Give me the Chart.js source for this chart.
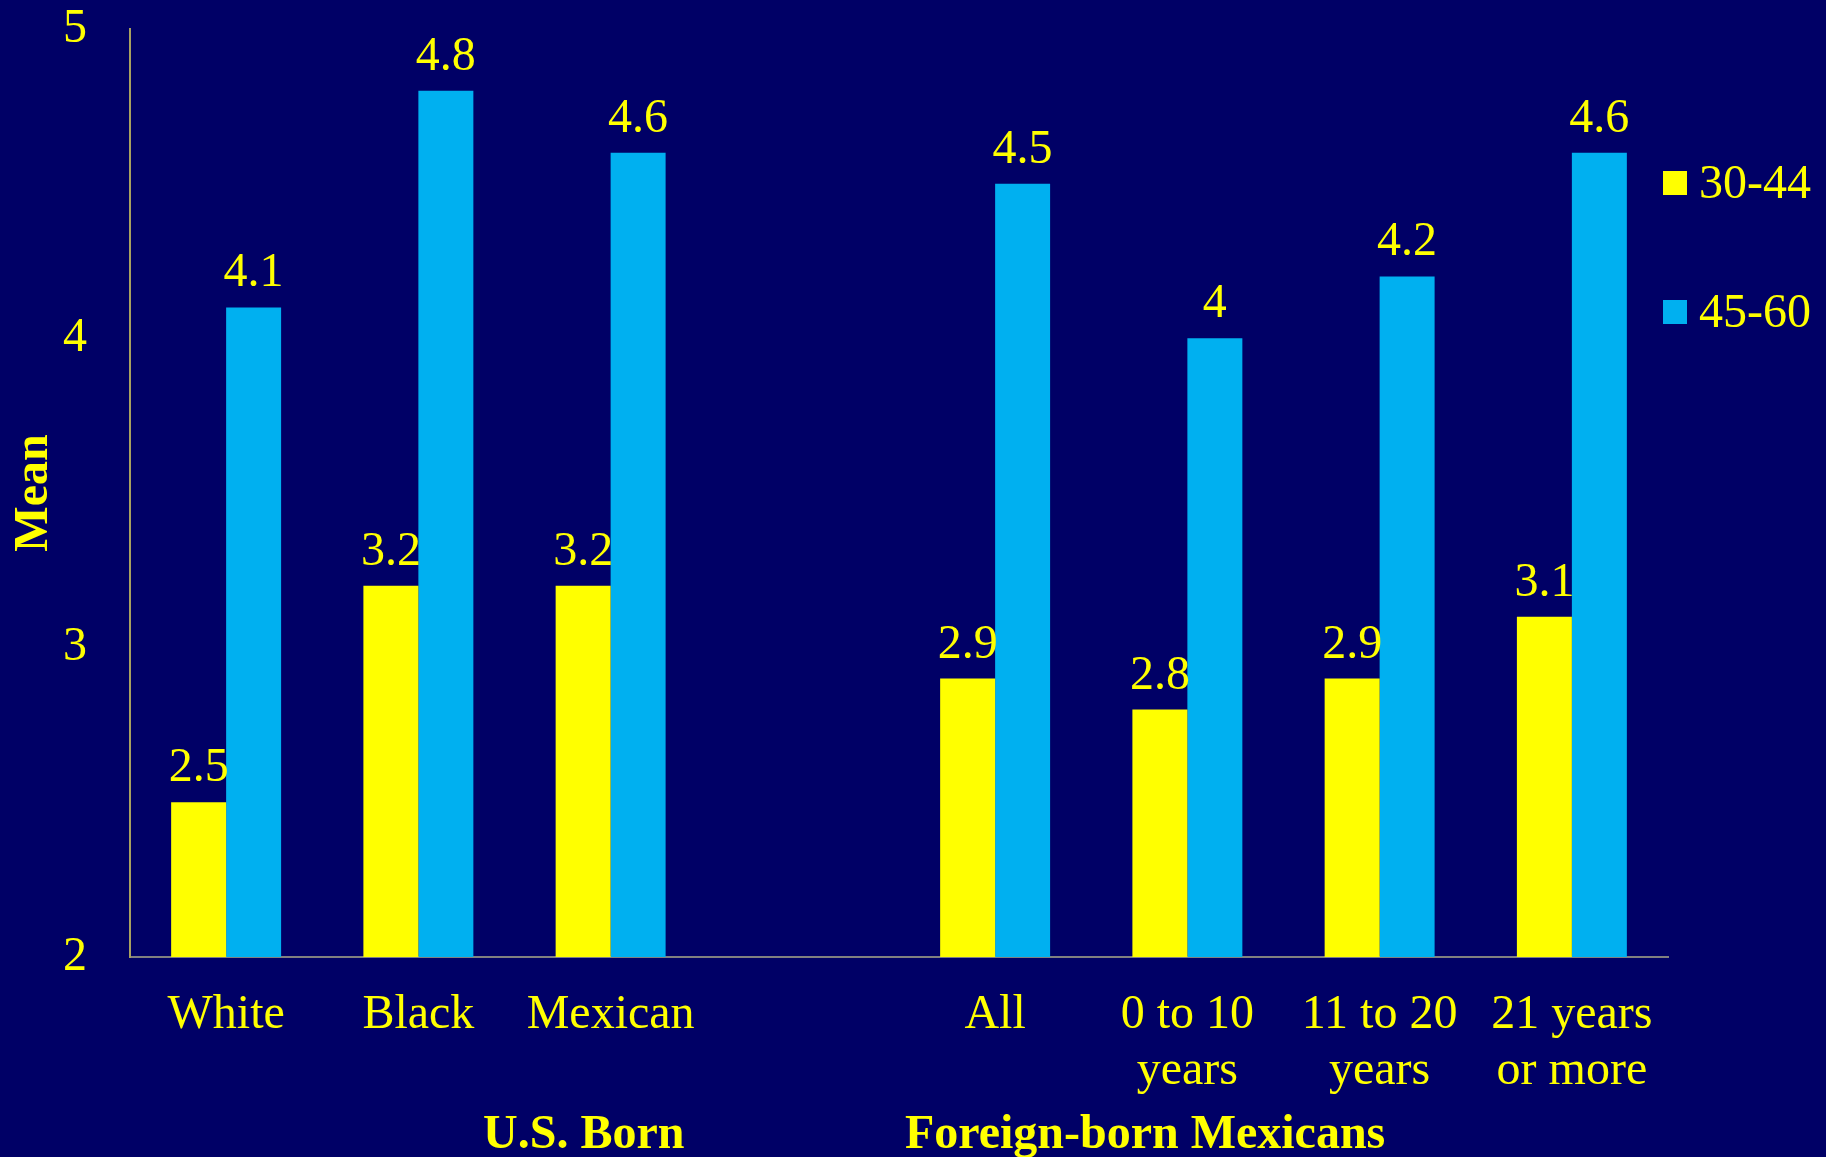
<!DOCTYPE html>
<html>
<head>
<meta charset="utf-8">
<script src="https://cdn.jsdelivr.net/npm/chart.js@4/dist/chart.umd.min.js"></script>
<style>
  html, body { margin: 0; padding: 0; background: #000066; }
  #wrap { width: 1826px; height: 1157px; }
</style>
</head>
<body>
<div id="wrap"><canvas id="c" width="1826" height="1157"></canvas></div>
<script>
// Categories (an empty slot separates the two groups)
const categories = [
  ['White'], ['Black'], ['Mexican'], [''],
  ['All'], ['0 to 10', 'years'], ['11 to 20', 'years'], ['21 years', 'or more']
];
const seriesNames = ['30-44', '45-60'];
const age30to44 = [2.5, 3.2, 3.2, null, 2.9, 2.8, 2.9, 3.1];
const age45to60 = [4.1, 4.8, 4.6, null, 4.5, 4.0, 4.2, 4.6];
const yTicks = [2, 3, 4, 5];
const groupLabels = ['U.S. Born', 'Foreign-born Mexicans'];

const YELLOW = '#ffff00';
const BLUE = '#00b0f0';
const SERIF = '"Liberation Serif", "Times New Roman", serif';

// Value labels above each bar
const valueLabels = {
  id: 'valueLabels',
  afterDatasetsDraw(chart) {
    const ctx = chart.ctx;
    ctx.save();
    ctx.font = '48px ' + SERIF;
    ctx.fillStyle = YELLOW;
    ctx.textAlign = 'center';
    ctx.textBaseline = 'alphabetic';
    chart.data.datasets.forEach((ds, di) => {
      chart.getDatasetMeta(di).data.forEach((bar, i) => {
        const v = ds.data[i];
        if (v === null) return;
        ctx.fillText(String(v), bar.x, bar.y - 21);
      });
    });
    ctx.restore();
  }
};

// Group captions under the category labels and the legend on the right
const extras = {
  id: 'extras',
  afterDraw(chart) {
    const ctx = chart.ctx;
    const x = chart.scales.x;
    const slot = x.getPixelForValue(1) - x.getPixelForValue(0);
    ctx.save();
    ctx.fillStyle = YELLOW;
    ctx.textAlign = 'center';
    ctx.textBaseline = 'alphabetic';
    ctx.font = 'bold 48px ' + SERIF;
    ctx.fillText(groupLabels[0], x.getPixelForValue(2) - 0.14 * slot, 1148);
    ctx.fillText(groupLabels[1], x.getPixelForValue(5) - 0.22 * slot, 1148);

    // legend
    const area = chart.chartArea;
    const colors = [YELLOW, BLUE];
    ctx.font = '48px ' + SERIF;
    ctx.textAlign = 'left';
    ctx.textBaseline = 'middle';
    seriesNames.forEach((name, i) => {
      const cy = 183 + i * 129;
      ctx.fillStyle = colors[i];
      ctx.fillRect(area.right - 5, cy - 12, 24, 24);
      ctx.fillStyle = YELLOW;
      ctx.fillText(name, area.right + 31, cy + 2);
    });
    ctx.restore();
  }
};

new Chart(document.getElementById('c'), {
  type: 'bar',
  data: {
    labels: categories,
    datasets: [
      { label: seriesNames[0], data: age30to44, backgroundColor: YELLOW },
      { label: seriesNames[1], data: age45to60, backgroundColor: BLUE }
    ]
  },
  options: {
    responsive: false,
    animation: false,
    devicePixelRatio: 1,
    layout: { padding: { top: 29, right: 158, left: 0, bottom: 0 } },
    datasets: { bar: { categoryPercentage: 0.572, barPercentage: 1.0 } },
    plugins: { legend: { display: false }, tooltip: { enabled: false } },
    scales: {
      x: {
        grid: { display: false, drawTicks: false },
        border: { display: true, color: '#808080', width: 2 },
        ticks: {
          color: YELLOW,
          font: { family: SERIF, size: 48, lineHeight: 1.17 },
          padding: 30,
          maxRotation: 0,
          autoSkip: false
        },
        afterFit(scale) {
          scale.height = 200;
          scale.paddingLeft = 0; scale.paddingRight = 0;
        }
      },
      y: {
        min: 2, max: 5,
        afterBuildTicks(scale) { scale.ticks = yTicks.map(v => ({ value: v })); },
        grid: { display: false, drawTicks: false },
        border: { display: true, color: '#a8a060', width: 2 },
        ticks: {
          color: YELLOW,
          font: { family: SERIF, size: 48 },
          padding: 43
        },
        title: {
          display: true,
          text: 'Mean',
          color: YELLOW,
          font: { family: SERIF, size: 48, weight: 'bold' },
          padding: { top: 6, bottom: 0 }
        },
        afterFit(scale) {
          scale.width = 130;
          scale.paddingTop = 0; scale.paddingBottom = 0;
        }
      }
    }
  },
  plugins: [valueLabels, extras]
});
</script>
</body>
</html>
